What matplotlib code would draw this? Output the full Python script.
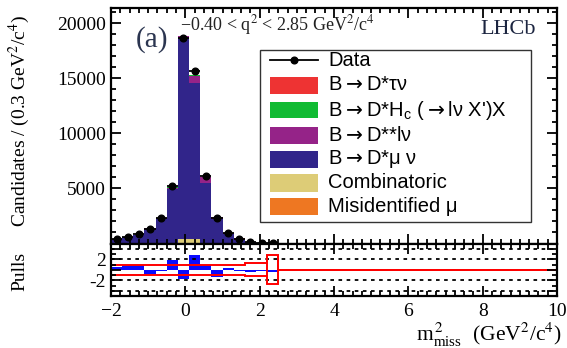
import numpy as np
import matplotlib
matplotlib.use("Agg")
import matplotlib.pyplot as plt
from matplotlib.patches import Rectangle
from matplotlib.lines import Line2D
from matplotlib.ticker import MultipleLocator

# ---------------- data ----------------
bin_edges = [-2.0, -1.7, -1.4, -1.1, -0.8, -0.5, -0.2, 0.1, 0.4, 0.7, 1.0, 1.3, 1.6, 1.9, 2.2, 2.5]
data = [420, 580, 820, 1350, 2350, 5240, 18650, 15630, 6140, 2360, 950, 450, 170, 60, 30]
misid = [5, 5, 8, 10, 15, 30, 80, 70, 30, 15, 8, 5, 3, 1, 1]
combinatoric = [10, 10, 15, 20, 30, 60, 350, 300, 60, 25, 12, 6, 3, 1, 1]
dstar_mu = [384, 531, 755, 1320, 2262, 4905, 18200, 14230, 5372, 2210, 849, 413, 155, 54, 27]
dstarstar = [5, 8, 10, 20, 40, 80, 200, 650, 570, 150, 60, 25, 10, 4, 2]
dstar_hc = [3, 3, 5, 8, 10, 20, 40, 40, 30, 15, 8, 5, 3, 1, 1]
dstar_tau = [1, 1, 1, 2, 3, 5, 10, 10, 8, 5, 3, 2, 1, 1, 0]
pulls = [0.6, 0.9, 0.9, -0.8, -0.2, 1.9, -1.7, 2.8, 0.9, -1.3, 0.4, -0.3, -0.4, -0.3, -0.4]
band_edges = [-2.0, -1.7, -1.4, -1.1, -0.8, -0.5, -0.2, 0.1, 0.4, 0.7, 1.0, 1.3, 1.6, 1.9, 2.2, 2.5, 10.0]
band_halfwidth = [1, 1, 1, 1, 1, 1, 1, 1, 1, 1, 1, 1, 1.2, 1.2, 2.8, 0]

ARR = "$\\rightarrow$"
labels = ["Data", "B" + ARR + "D*\u03c4\u03bd", "B" + ARR + "D*H$_\\mathregular{c}$ (" + ARR + "l\u03bd X')X",
          "B" + ARR + "D**l\u03bd", "B" + ARR + "D*\u03bc \u03bd", "Combinatoric", "Misidentified \u03bc"]

C_BLUE = '#31258a'
C_MAG = '#952388'
C_RED = '#ee3333'
C_GREEN = '#11bb33'
C_YEL = '#ddcc77'
C_ORA = '#ee7722'

SERIF = ['Liberation Serif', 'DejaVu Serif']
SANS = ['Liberation Sans', 'DejaVu Sans']

W, H = 567, 348
fig = plt.figure(figsize=(W / 100, H / 100), dpi=100)

def fx(px):
    return px / W

def fy(py):
    return 1 - py / H

L, R = 111, 557
ax = fig.add_axes([fx(L), fy(243.5), fx(R) - fx(L), fy(8) - fy(243.5)])
axp = fig.add_axes([fx(L), fy(296), fx(R) - fx(L), fy(243.5) - fy(296)])

edges = np.array(bin_edges)
centers = 0.5 * (edges[:-1] + edges[1:])
widths = np.diff(edges)

comps = [(misid, C_ORA), (combinatoric, C_YEL), (dstar_mu, C_BLUE),
         (dstarstar, C_MAG), (dstar_hc, C_GREEN), (dstar_tau, C_RED)]
bottom = np.zeros(len(data))
for vals, col in comps:
    top = bottom + np.array(vals, dtype=float)
    ax.stairs(top, edges, baseline=bottom, fill=True, color=col, lw=0)
    bottom = top

d = np.array(data, dtype=float)
ax.errorbar(centers, d, xerr=widths / 2, yerr=np.sqrt(d), fmt='o', color='black',
            ms=4.8, elinewidth=1.3, capsize=0, zorder=5)

ax.set_xlim(-2, 10)
ax.set_ylim(0, 21400)
ax.xaxis.set_major_locator(MultipleLocator(2))
ax.xaxis.set_minor_locator(MultipleLocator(0.25))
ax.yaxis.set_major_locator(MultipleLocator(5000))
ax.yaxis.set_minor_locator(MultipleLocator(1000))
ax.set_yticks([5000, 10000, 15000, 20000])
ax.set_xticklabels([])

# pulls
axp.bar(centers, pulls, width=widths, color='#0a0aff', lw=0)
for yv in (-4, -2, 2, 4):
    axp.axhline(yv, color='black', ls=(0, (2, 2.5)), lw=1.3)
be = np.array(band_edges)
hw = np.array(band_halfwidth, dtype=float)
axp.stairs(hw, be, baseline=None, color='red', lw=1.4)
axp.stairs(-hw, be, baseline=None, color='red', lw=1.4)
axp.vlines([be[14], be[15]], [-hw[14], -hw[14]], [hw[14], hw[14]], color='red', lw=1.4)
axp.set_xlim(-2, 10)
axp.set_ylim(-5, 5)
axp.xaxis.set_major_locator(MultipleLocator(2))
axp.xaxis.set_minor_locator(MultipleLocator(0.25))
axp.set_yticks([-4, -2, 0, 2, 4])
axp.set_yticklabels(['', '-2', '', '2', ''])
axp.yaxis.set_minor_locator(MultipleLocator(1))

for a in (ax, axp):
    for s in a.spines.values():
        s.set_linewidth(1.6)
    a.tick_params(which='both', direction='in', top=True, right=True, width=1.3)
    a.tick_params(which='major', length=7)
    a.tick_params(which='minor', length=3.5)
    for lab in a.get_xticklabels() + a.get_yticklabels():
        lab.set_family(SERIF)
        lab.set_fontsize(14)
axp.tick_params(axis='x', pad=5)

# texts
fig.text(fx(152), fy(40), '(a)', family=SERIF, fontsize=21, color='#2b3550', ha='center', va='center')
fig.text(fx(180), fy(25), '\u22120.40 < q$^{2}$ < 2.85 GeV$^{2}$/c$^{4}$', family=SERIF,
         fontsize=13, ha='left', va='center', math_fontfamily='stix', color='#222222')
fig.text(fx(508), fy(29), 'LHCb', family=SERIF, fontsize=16, color='#1c2540', ha='center', va='center')
fig.text(fx(19), fy(121), 'Candidates / (0.3 GeV$^{2}$/c$^{4}$)', family=SERIF, fontsize=14,
         rotation=90, ha='center', va='center', math_fontfamily='stix')
fig.text(fx(20), fy(271), 'Pulls', family=SERIF, fontsize=14, rotation=90, ha='center', va='center')
fig.text(fx(562), fy(335), 'm$^{\\,2}_{\\mathregular{miss}}$  (GeV$^{2}$/c$^{4}$)', family=SERIF,
         fontsize=15.5, ha='right', va='center', math_fontfamily='stix')

# legend (manual)
fig.patches.append(Rectangle((fx(260), fy(222)), fx(531) - fx(260), fy(50) - fy(222),
                             transform=fig.transFigure, fill=True, facecolor='white',
                             edgecolor='#333333', lw=1.0, zorder=10))
row_y = [60, 85, 110, 135, 159, 183, 207]
leg_cols = [None, C_RED, C_GREEN, C_MAG, C_BLUE, C_YEL, C_ORA]
for yy, lab, col in zip(row_y, labels, leg_cols):
    if col is None:
        fig.lines.append(Line2D([fx(270), fx(318)], [fy(yy), fy(yy)], transform=fig.transFigure,
                                color='black', lw=1.3, marker=None, zorder=11))
        fig.lines.append(Line2D([fx(294)], [fy(yy)], transform=fig.transFigure,
                                color='black', marker='o', ms=4.8, zorder=11))
    else:
        fig.patches.append(Rectangle((fx(270), fy(yy + 8.5)), fx(318) - fx(270), fy(yy - 8.5) - fy(yy + 8.5),
                                     transform=fig.transFigure, facecolor=col, edgecolor='none', zorder=11))
    fig.text(fx(328), fy(yy), lab, family=SANS, fontsize=14.5, ha='left', va='center', zorder=12,
             math_fontfamily='dejavusans')

fig.savefig('out.png', dpi=100)
